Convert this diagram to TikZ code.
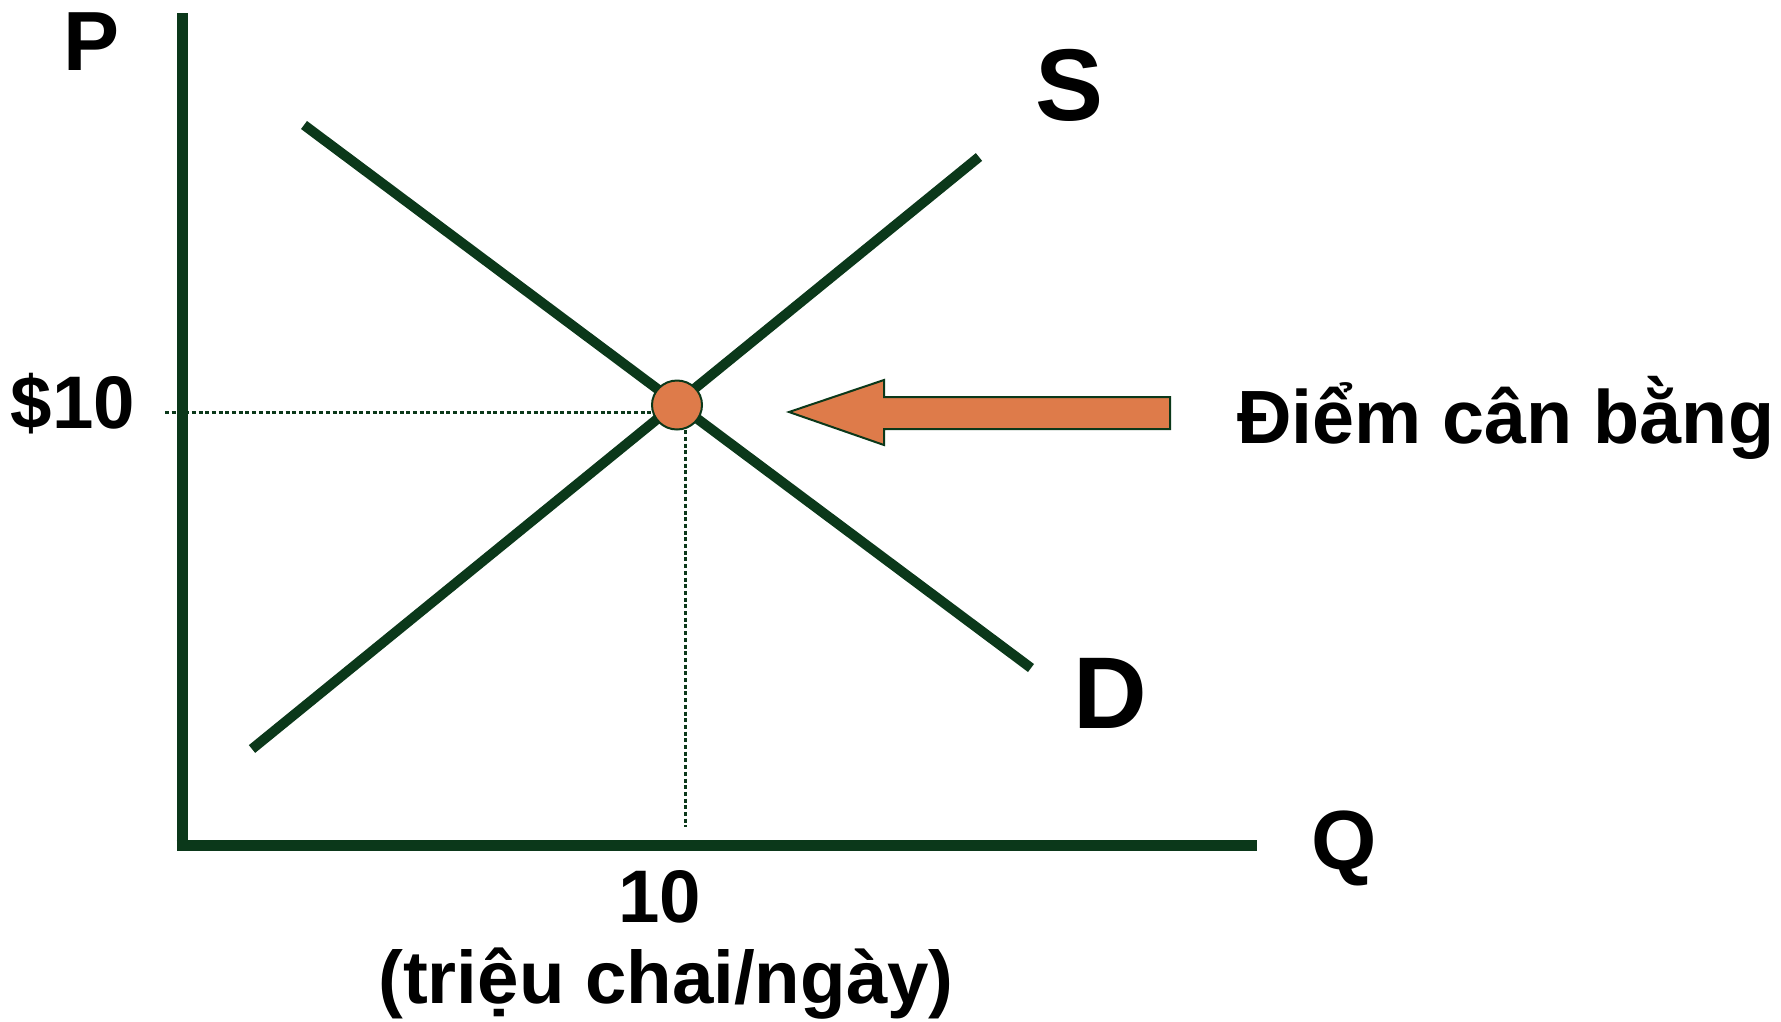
\documentclass[tikz,border=0pt]{standalone}
\usepackage{fontspec}
\usetikzlibrary{shapes.geometric}
\setmainfont{Liberation Sans}
\definecolor{dg}{RGB}{11,56,26}
\definecolor{org}{RGB}{222,123,74}
\begin{document}
\begin{tikzpicture}[x=1pt,y=-1pt,
  curve/.style={draw=dg,line width=10pt},
  axisline/.style={draw=dg,line width=11pt},
  guide/.style={draw=dg,line width=3pt,dash pattern=on 4pt off 2.7pt},
  lbl/.style={inner sep=0pt,anchor=base,font=\bfseries\fontsize{74.5pt}{80pt}\selectfont},
  axlbl/.style={inner sep=0pt,anchor=base,font=\bfseries\fontsize{84pt}{90pt}\selectfont},
  crvlbl/.style={inner sep=0pt,anchor=base,font=\bfseries\fontsize{102pt}{110pt}\selectfont},
  eqpt/.style={ellipse,fill=org,draw=dg,line width=2pt,minimum width=50pt,minimum height=49pt,inner sep=0pt}]
\useasboundingbox (0,0) rectangle (1781,1021);
% axes
\coordinate (ytop) at (182,13);
\coordinate (origin) at (182,850);
\coordinate (xorig) at (176.5,845);
\coordinate (xend) at (1257,845);
\draw[axisline] (ytop) -- (origin);
\draw[axisline] (xorig) -- (xend);
% curves
\coordinate (d1) at (304,125);
\coordinate (d2) at (1031,668);
\coordinate (s1) at (252,749);
\coordinate (s2) at (979,157);
\draw[curve] (d1) -- (d2);
\draw[curve] (s1) -- (s2);
% guides
\coordinate (pstart) at (165,412);
\coordinate (pend) at (670,412);
\coordinate (qstart) at (685,410);
\coordinate (qend) at (685,827);
\draw[guide] (pstart) -- (pend);
\draw[guide] (qstart) -- (qend);
% equilibrium
\node[eqpt] (eq) at (677,405) {};
% arrow
\draw[fill=org,draw=dg,line width=2pt,line join=miter]
  (789,412) -- (884,380) -- (884,397) -- (1170,397) -- (1170,429) -- (884,429) -- (884,445) -- cycle;
% labels
\node[axlbl] (P) at (92,70) {P};
\node[axlbl] (Q) at (1344,869) {Q};
\node[crvlbl] (S) at (1070,120) {S};
\node[crvlbl] (D) at (1110,728) {D};
\node[lbl] (price) at (73,428) {\$10};
\node[lbl] (qty) at (660,922) {10};
\node[lbl] (unit) at (666,1003) {(triệu chai/ngày)};
\node[lbl,anchor=base west,font=\bfseries\fontsize{75.5pt}{80pt}\selectfont] (eqlabel) at (1237,443) {Điểm cân bằng};
\end{tikzpicture}
\end{document}
